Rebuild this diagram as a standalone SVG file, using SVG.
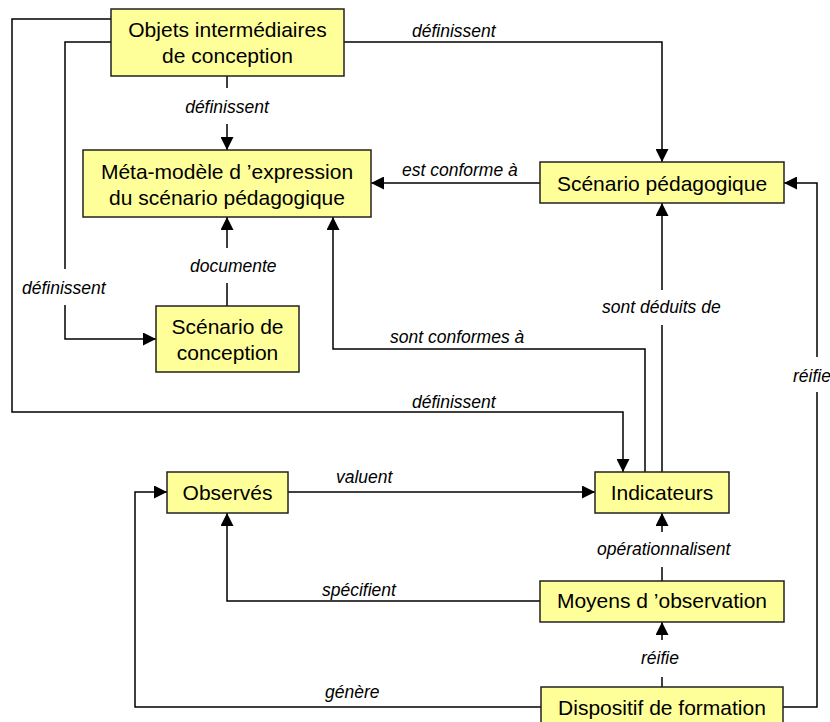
<svg xmlns="http://www.w3.org/2000/svg" width="830" height="722" viewBox="0 0 830 722">
<defs>
<marker id="arr" viewBox="0 0 12 12" refX="12" refY="6" markerWidth="13" markerHeight="13" markerUnits="userSpaceOnUse" orient="auto">
<path d="M0,0 L12,6 L0,12 z" fill="#000"/>
</marker>
<style>
.box{fill:#ffff99;stroke:#222;stroke-width:1.5}
.bt{font-family:"Liberation Sans",Arial,sans-serif;font-size:21px;fill:#000;text-anchor:middle}
.lb{font-family:"Liberation Sans",Arial,sans-serif;font-size:17.5px;font-style:italic;fill:#000}
.c{fill:none;stroke:#000;stroke-width:1.5;marker-end:url(#arr)}
</style>
</defs>
<rect width="830" height="722" fill="#fff"/>
<g id="connectors">
<path class="c" d="M344,42 H662 V162"/>
<path class="c" d="M227,76 V88 M227,124 V150"/>
<path class="c" d="M111,42 H65 V269 M65,305 V339 H156"/>
<path class="c" d="M111,19 H12 V412 H623 V472"/>
<path class="c" d="M540,183 H371"/>
<path class="c" d="M227,306 V283 M227,248 V217"/>
<path class="c" d="M645,472 V349 H333 V217"/>
<path class="c" d="M662,472 V325 M662,290 V203"/>
<path class="c" d="M783,707 H817 V392 M817,357 V183 H784"/>
<path class="c" d="M288,492 H595"/>
<path class="c" d="M540,601 H227 V513"/>
<path class="c" d="M541,707 H135 V492 H167"/>
<path class="c" d="M662,581 V567 M662,532 V513"/>
<path class="c" d="M662,687 V677 M662,640 V622"/>
<text class="lb" x="412" y="37">définissent</text>
<text class="lb" x="227" y="113" text-anchor="middle">définissent</text>
<text class="lb" x="402" y="176">est conforme à</text>
<text class="lb" x="190" y="272">documente</text>
<text class="lb" x="22" y="294">définissent</text>
<text class="lb" x="390" y="343">sont conformes à</text>
<text class="lb" x="412" y="408">définissent</text>
<text class="lb" x="602" y="313">sont déduits de</text>
<text class="lb" x="793" y="382">réifie</text>
<text class="lb" x="336" y="483">valuent</text>
<text class="lb" x="597" y="555">opérationnalisent</text>
<text class="lb" x="322" y="596">spécifient</text>
<text class="lb" x="641" y="664">réifie</text>
<text class="lb" x="325" y="698">génère</text>
</g>
<g id="objets">
<rect class="box" x="111" y="9" width="233" height="67"/>
<text class="bt" x="227.5" y="37">Objets intermédiaires</text>
<text class="bt" x="227.5" y="63">de conception</text>
</g>
<g id="metamodele">
<rect class="box" x="83" y="150" width="288" height="67"/>
<text class="bt" x="227" y="179">Méta-modèle d ’expression</text>
<text class="bt" x="227" y="205">du scénario pédagogique</text>
</g>
<g id="scenario-pedagogique">
<rect class="box" x="540" y="162" width="244" height="41"/>
<text class="bt" x="662" y="191">Scénario pédagogique</text>
</g>
<g id="scenario-conception">
<rect class="box" x="156" y="306" width="143" height="66"/>
<text class="bt" x="227.5" y="334">Scénario de</text>
<text class="bt" x="227.5" y="360">conception</text>
</g>
<g id="observes">
<rect class="box" x="167" y="472" width="121" height="41"/>
<text class="bt" x="227.5" y="500">Observés</text>
</g>
<g id="indicateurs">
<rect class="box" x="595" y="472" width="134" height="41"/>
<text class="bt" x="662" y="500">Indicateurs</text>
</g>
<g id="moyens">
<rect class="box" x="540" y="581" width="244" height="41"/>
<text class="bt" x="662" y="608">Moyens d ’observation</text>
</g>
<g id="dispositif">
<rect class="box" x="541" y="687" width="242" height="41"/>
<text class="bt" x="662" y="715">Dispositif de formation</text>
</g>
</svg>
